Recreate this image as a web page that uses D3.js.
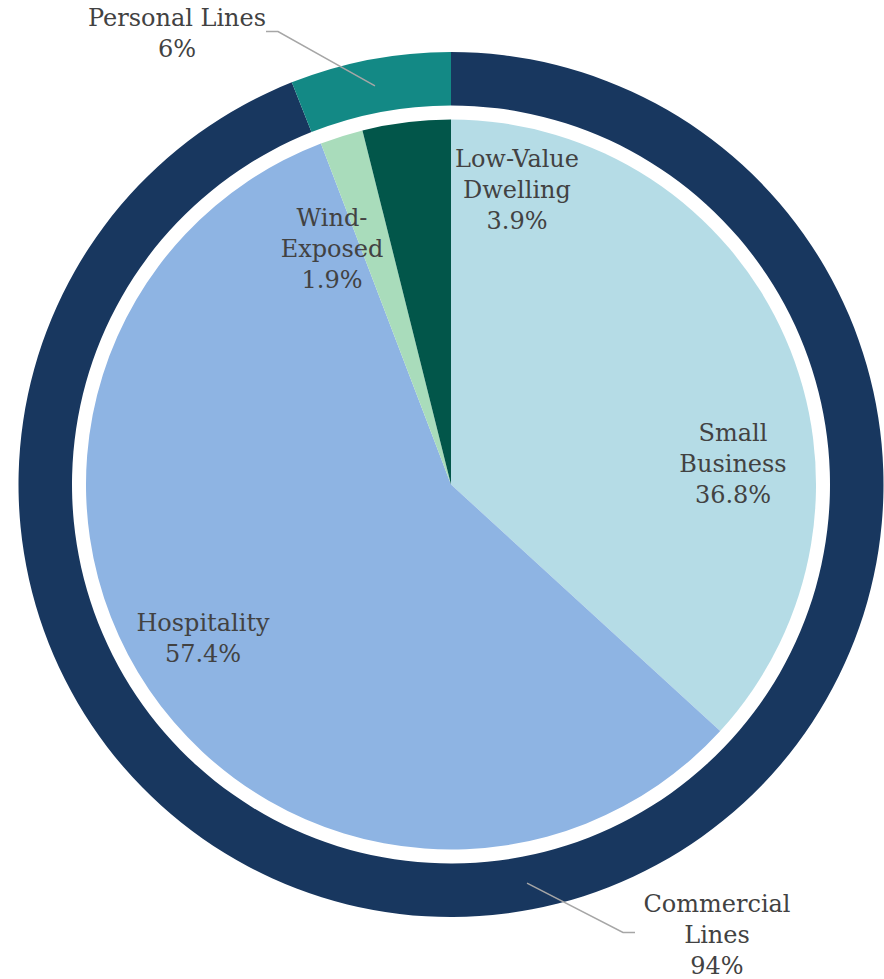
<!DOCTYPE html>
<html>
<head>
<meta charset="utf-8">
<script src="https://cdn.jsdelivr.net/npm/d3@7/dist/d3.min.js"></script>
<style>
  html, body { margin: 0; padding: 0; background: #ffffff; }
  svg { display: block; }
  text { font-family: "DejaVu Serif", serif; font-size: 24px; fill: #424242; }
</style>
</head>
<body>
<svg id="chart" width="884" height="979"></svg>
<script>
// Inner ring: individual segments (share of total, %)
const segmentNames = ["Small Business", "Hospitality", "Wind-Exposed", "Low-Value Dwelling"];
const segmentLines = [["Small", "Business"], ["Hospitality"], ["Wind-", "Exposed"], ["Low-Value", "Dwelling"]];
const segmentValues = [36.8, 57.4, 1.9, 3.9];
const segmentColors = ["#b5dce6", "#8eb4e3", "#a9dcbb", "#02564a"];

// Outer ring: lines of business (share of total, %)
const groupNames = ["Commercial Lines", "Personal Lines"];
const groupLines = [["Commercial", "Lines"], ["Personal Lines"]];
const groupValues = [94, 6];
const groupColors = ["#18375f", "#138985"];

// Geometry
const cx = 451, cy = 484.5;
const innerR = 365;
const ringInner = 379, ringOuter = 432.5;
const lineHeight = 31;

// Label placement for inner segments (offset of the label block's centre from the chart centre)
const segmentLabelOffsets = [[282, -12], [-248, 163], [-119, -227], [66, -286]];
// Callout elbows for outer labels (offset from chart centre), and side the label sits on
const groupCallouts = [
  { elbow: [172, 448], tail: 12, side: 1 },
  { elbow: [-173, -453], tail: -12, side: -1 }
];

const svg = d3.select("#chart");
const g = svg.append("g").attr("transform", `translate(${cx},${cy})`);

const pie = d3.pie().sort(null).value(d => d).startAngle(0).endAngle(2 * Math.PI);

const innerArc = d3.arc().innerRadius(0).outerRadius(innerR);
const outerArc = d3.arc().innerRadius(ringInner).outerRadius(ringOuter);

const innerData = pie(segmentValues);
const outerData = pie(groupValues);

// Outer ring
g.selectAll("path.group")
  .data(outerData)
  .join("path")
  .attr("class", "group")
  .attr("d", outerArc)
  .attr("fill", (d, i) => groupColors[i]);

// Inner pie
g.selectAll("path.segment")
  .data(innerData)
  .join("path")
  .attr("class", "segment")
  .attr("d", innerArc)
  .attr("fill", (d, i) => segmentColors[i]);

function fmt(v) { return v + "%"; }

// Inner labels
innerData.forEach((d, i) => {
  const lines = segmentLines[i].concat([fmt(segmentValues[i])]);
  const [ox, oy] = segmentLabelOffsets[i];
  const n = lines.length;
  const t = g.append("text").attr("text-anchor", "middle");
  lines.forEach((s, k) => {
    t.append("tspan")
      .attr("x", ox)
      .attr("y", oy + (k - (n - 1) / 2) * lineHeight - 1)
      .text(s);
  });
});

// Outer labels with leader lines
outerData.forEach((d, i) => {
  const start = outerArc.centroid(d);
  const c = groupCallouts[i];
  const end = [c.elbow[0] + c.tail, c.elbow[1]];
  g.append("polyline")
    .attr("points", [start, c.elbow, end].map(p => p.join(",")).join(" "))
    .attr("fill", "none")
    .attr("stroke", "#a6a6a6")
    .attr("stroke-width", 1.5);

  const lines = groupLines[i].concat([fmt(groupValues[i])]);
  const n = lines.length;
  const t = g.append("text").attr("text-anchor", "middle");
  const tx = c.side > 0 ? end[0] + 82 : end[0] - 89;
  lines.forEach((s, k) => {
    t.append("tspan")
      .attr("x", tx)
      .attr("y", end[1] + (k - (n - 1) / 2) * lineHeight + 10)
      .text(s);
  });
});
</script>
</body>
</html>
